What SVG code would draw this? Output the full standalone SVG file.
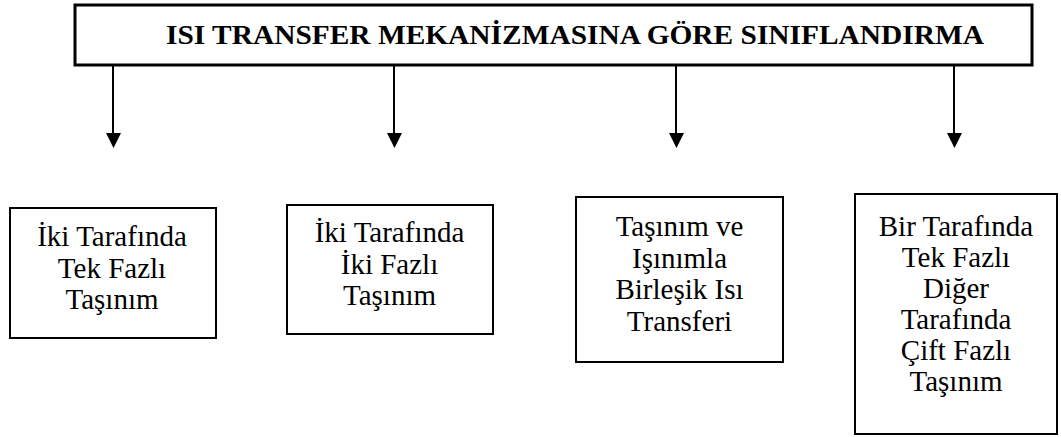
<svg xmlns="http://www.w3.org/2000/svg" width="1061" height="437" viewBox="0 0 1061 437">
<style>
.box{fill:#fff;stroke:#000;stroke-width:2}
.top{fill:#fff;stroke:#000;stroke-width:3}
.conn{stroke:#000;stroke-width:2;fill:none}
.t{font-family:'Liberation Serif',serif;font-size:29px;text-anchor:middle;fill:#000}
.title{font-family:'Liberation Serif',serif;font-size:28px;font-weight:bold;fill:#000}
</style>
<g id="root">
<rect class="top" x="75" y="5" width="957" height="60"/>
<text class="title" x="166" y="44" textLength="818" lengthAdjust="spacingAndGlyphs">ISI TRANSFER MEKANİZMASINA GÖRE SINIFLANDIRMA</text>
</g>
<g id="connectors">
<line class="conn" x1="113" y1="65" x2="113" y2="136"/>
<polygon points="106,133 121,133 113.5,148"/>
<line class="conn" x1="394" y1="65" x2="394" y2="136"/>
<polygon points="387,133 402,133 394.5,148"/>
<line class="conn" x1="676" y1="65" x2="676" y2="136"/>
<polygon points="669,133 684,133 676.5,148"/>
<line class="conn" x1="954" y1="65" x2="954" y2="136"/>
<polygon points="947,133 962,133 954.5,148"/>
</g>
<g id="n1">
<rect class="box" x="10" y="208" width="206" height="130"/>
<text class="t" x="112" y="246">İki Tarafında</text>
<text class="t" x="112" y="277.5">Tek Fazlı</text>
<text class="t" x="112" y="309">Taşınım</text>
</g>
<g id="n2">
<rect class="box" x="287" y="205" width="206" height="129"/>
<text class="t" x="389.5" y="242">İki Tarafında</text>
<text class="t" x="389.5" y="273.5">İki Fazlı</text>
<text class="t" x="389.5" y="305">Taşınım</text>
</g>
<g id="n3">
<rect class="box" x="576" y="197" width="207" height="165"/>
<text class="t" x="679.5" y="236">Taşınım ve</text>
<text class="t" x="679.5" y="267.5">Işınımla</text>
<text class="t" x="679.5" y="299">Birleşik Isı</text>
<text class="t" x="679.5" y="330.5">Transferi</text>
</g>
<g id="n4">
<rect class="box" x="855" y="194" width="202" height="240"/>
<text class="t" x="956" y="236">Bir Tarafında</text>
<text class="t" x="956" y="267">Tek Fazlı</text>
<text class="t" x="956" y="298">Diğer</text>
<text class="t" x="956" y="329">Tarafında</text>
<text class="t" x="956" y="360">Çift Fazlı</text>
<text class="t" x="956" y="391">Taşınım</text>
</g>
</svg>
